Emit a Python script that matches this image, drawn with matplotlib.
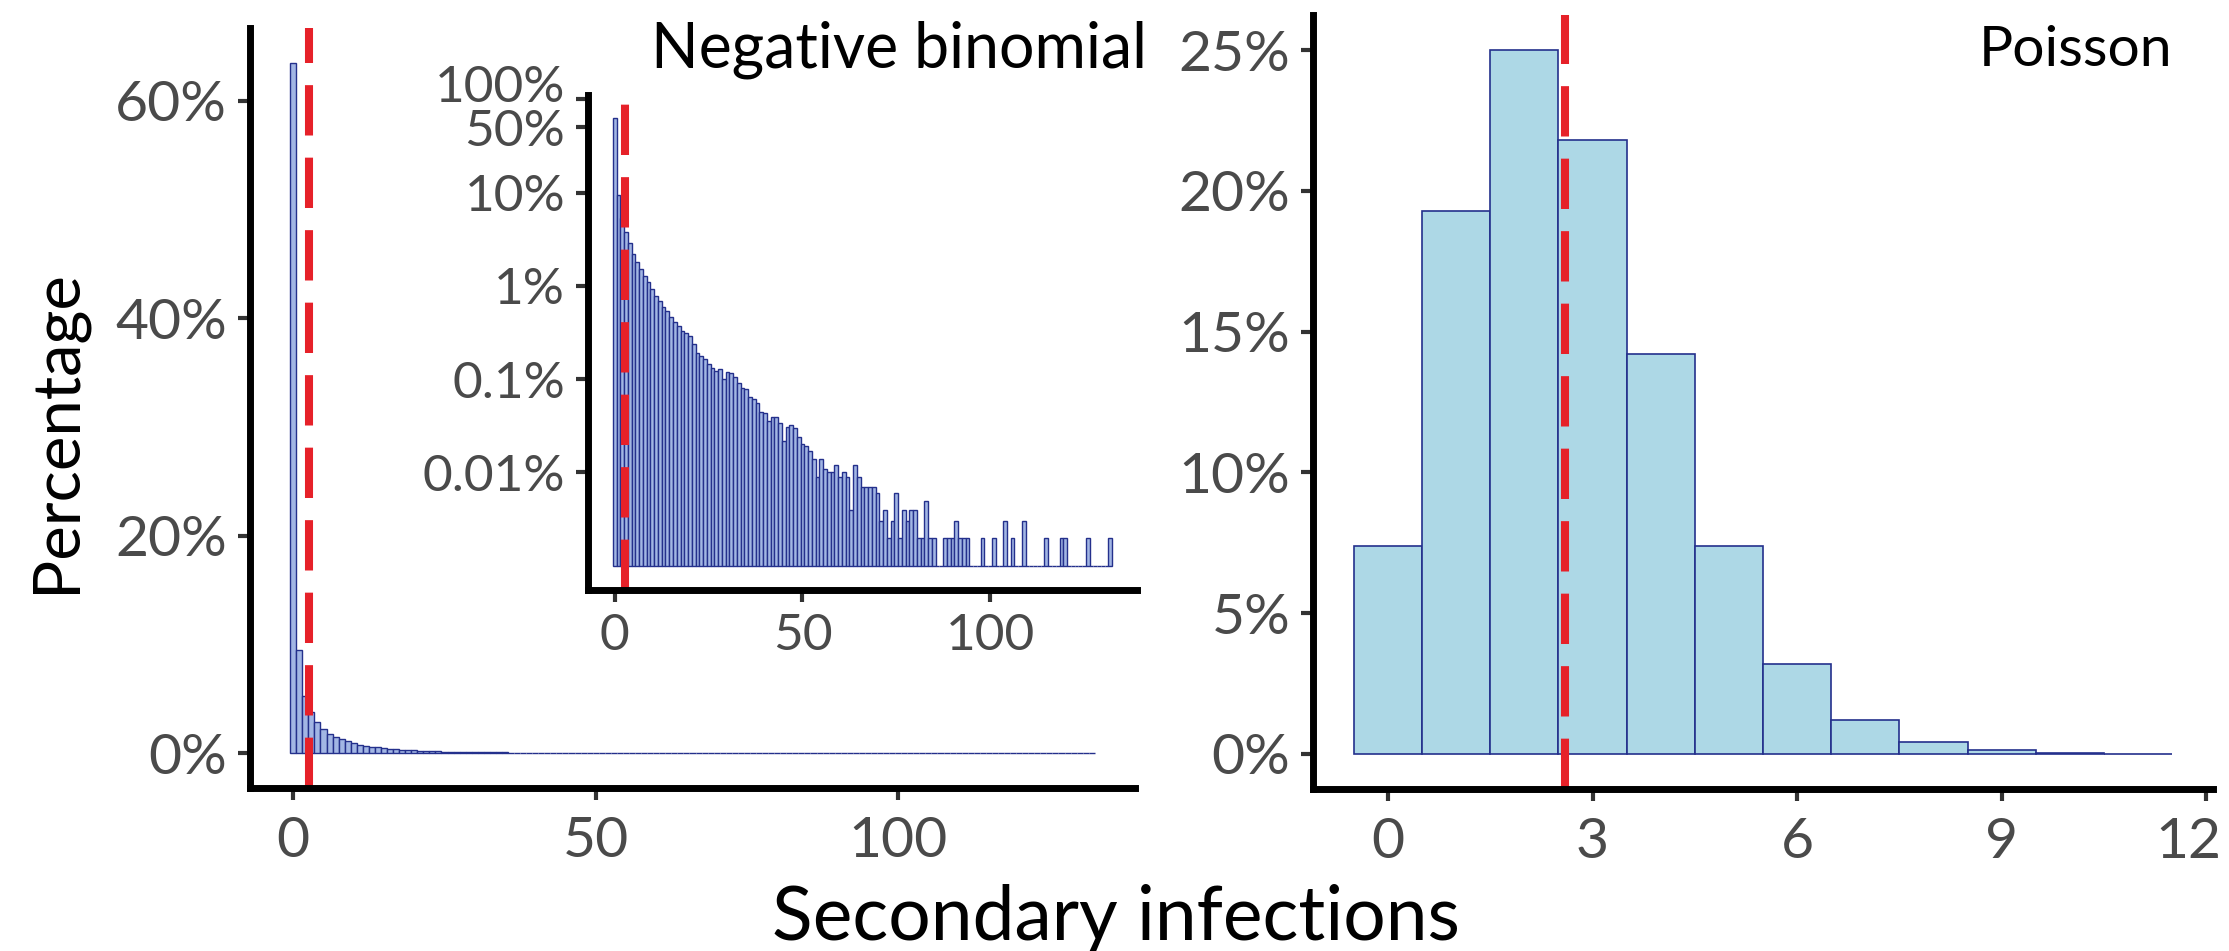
import numpy as np
import matplotlib
matplotlib.use("Agg")
import matplotlib.pyplot as plt
from matplotlib.transforms import ScaledTranslation

plt.rcParams['font.family'] = ['Lato', 'DejaVu Sans']

# simulated secondary infections, counts out of 100000 draws per bin (0..132)
nb_counts = [63500, 9500, 5300, 3820, 2870, 2190, 1780, 1510, 1280, 1090,
             920, 780, 680, 595, 540, 458, 405, 373, 329, 316,
             291, 237, 193, 178, 164, 145, 133, 123, 130, 100,
             120, 116, 105, 92, 81, 79, 64, 62, 55, 44,
             43, 36, 39, 39, 34, 22, 31, 32, 30, 24,
             20, 19, 17, 14, 9, 14, 11, 10, 10, 12,
             9, 10, 9, 4, 12, 9, 7, 7, 7, 7,
             6, 3, 4, 2, 3, 6, 2, 4, 3, 4,
             4, 2, 2, 5, 2, 2, 1, 1, 2, 2,
             2, 3, 2, 2, 2, 0, 1, 0, 2, 0,
             1, 2, 0, 0, 3, 0, 2, 0, 0, 3,
             0, 0, 1, 0, 0, 2, 0, 0, 0, 2,
             2, 0, 0, 0, 0, 0, 2, 0, 0, 0,
             0, 0, 2]
nb_total = 100000

# Poisson percentages for 0..11 secondary infections
pois_x = [0, 1, 2, 3, 4, 5, 6, 7, 8, 9, 10, 11]
pois_pct = [7.4, 19.3, 25.0, 21.8, 14.2, 7.4, 3.2, 1.2, 0.42, 0.12, 0.04, 0.01]

mean_r = 2.6

nb_x = np.arange(len(nb_counts))
nb_pct = np.array(nb_counts) / nb_total * 100
log_base = 1 / nb_total * 100

nb_fill = '#a2b6e4'
pois_fill = '#add8e6'
edge = '#24308c'
red = '#e62129'
tick_col = '#4a4a4a'
W, H = 2229, 951

fig = plt.figure(figsize=(W / 100, H / 100), dpi=100)


def frame(ax, fs=41, xpad=12):
    for s in ['top', 'right']:
        ax.spines[s].set_visible(False)
    for s in ['left', 'bottom']:
        ax.spines[s].set_linewidth(5)
        ax.spines[s].set_color('black')
        ax.spines[s].set_capstyle('projecting')
    ax.tick_params(length=8.5, width=3, color='#333333', labelcolor=tick_col,
                   labelsize=fs)
    ax.tick_params(axis='x', pad=xpad)
    ax.tick_params(axis='y', pad=8)
    ax.tick_params(which='minor', length=0)


def box(l, t, r, b):
    return [l / W, 1 - b / H, (r - l) / W, (b - t) / H]


def nudge(label, dx, dy):
    label.set_transform(label.get_transform() +
                        ScaledTranslation(dx / 100, dy / 100, fig.dpi_scale_trans))


# negative binomial, linear scale
ax1 = fig.add_axes(box(250, 28, 1135, 788))
ax1.bar(nb_x, nb_pct, width=1, color=nb_fill, edgecolor=edge, linewidth=1)
ax1.axvline(mean_r, color=red, lw=5.8, dashes=(6.25, 2.75))
ax1.set_xlim(-7.15, 139.15)
ax1.set_ylim(-3.2, 66.7)
ax1.set_xticks([0, 50, 100])
ax1.set_yticks([0, 20, 40, 60])
ax1.set_yticklabels(['0%', '20%', '40%', '60%'])
frame(ax1)

# inset on log scale
ax2 = fig.add_axes(box(588, 95, 1137, 590))
ax2.patch.set_alpha(0)
ax2.bar(nb_x, np.clip(nb_pct - log_base, 0, None), bottom=log_base, width=1,
        color=nb_fill, edgecolor=edge, linewidth=1)
ax2.axvline(mean_r, color=red, lw=5.8, dashes=(6.25, 2.75))
ax2.set_yscale('log')
ax2.set_xlim(-7.15, 139.15)
ax2.set_ylim(0.00055, 111)
ax2.set_xticks([0, 50, 100])
ax2.set_yticks([0.01, 0.1, 1, 10, 50, 100])
ax2.set_yticklabels(['0.01%', '0.1%', '1%', '10%', '50%', '100%'])
frame(ax2, fs=37, xpad=8)
nudge(ax2.get_yticklabels()[-1], 0, 16)

# Poisson
ax3 = fig.add_axes(box(1313, 15, 2213, 789))
ax3.bar(pois_x, pois_pct, width=1, color=pois_fill, edgecolor=edge, linewidth=1.2)
ax3.axvline(mean_r, color=red, lw=5.8, dashes=(6.25, 2.75))
ax3.set_xlim(-1.1, 12.1)
ax3.set_ylim(-1.25, 26.25)
ax3.set_xticks([0, 3, 6, 9, 12])
ax3.set_yticks([0, 5, 10, 15, 20, 25])
ax3.set_yticklabels(['0%', '5%', '10%', '15%', '20%', '25%'])
frame(ax3)
nudge(ax3.get_xticklabels()[-1], -18, 0)

fig.text(1147 / W, 1 - 50 / H, 'Negative binomial', ha='right', va='center',
         fontsize=45, color='black')
fig.text(2172 / W, 1 - 50 / H, 'Poisson', ha='right', va='center',
         fontsize=41, color='black')
fig.text(57 / W, 1 - 431 / H, 'Percentage', rotation=90, ha='center',
         va='center', fontsize=47, color='black')
fig.text(1116 / W, 1 - 918 / H, 'Secondary infections', ha='center',
         va='center', fontsize=54, color='black')

fig.savefig('out.png', dpi=100, facecolor='white')
